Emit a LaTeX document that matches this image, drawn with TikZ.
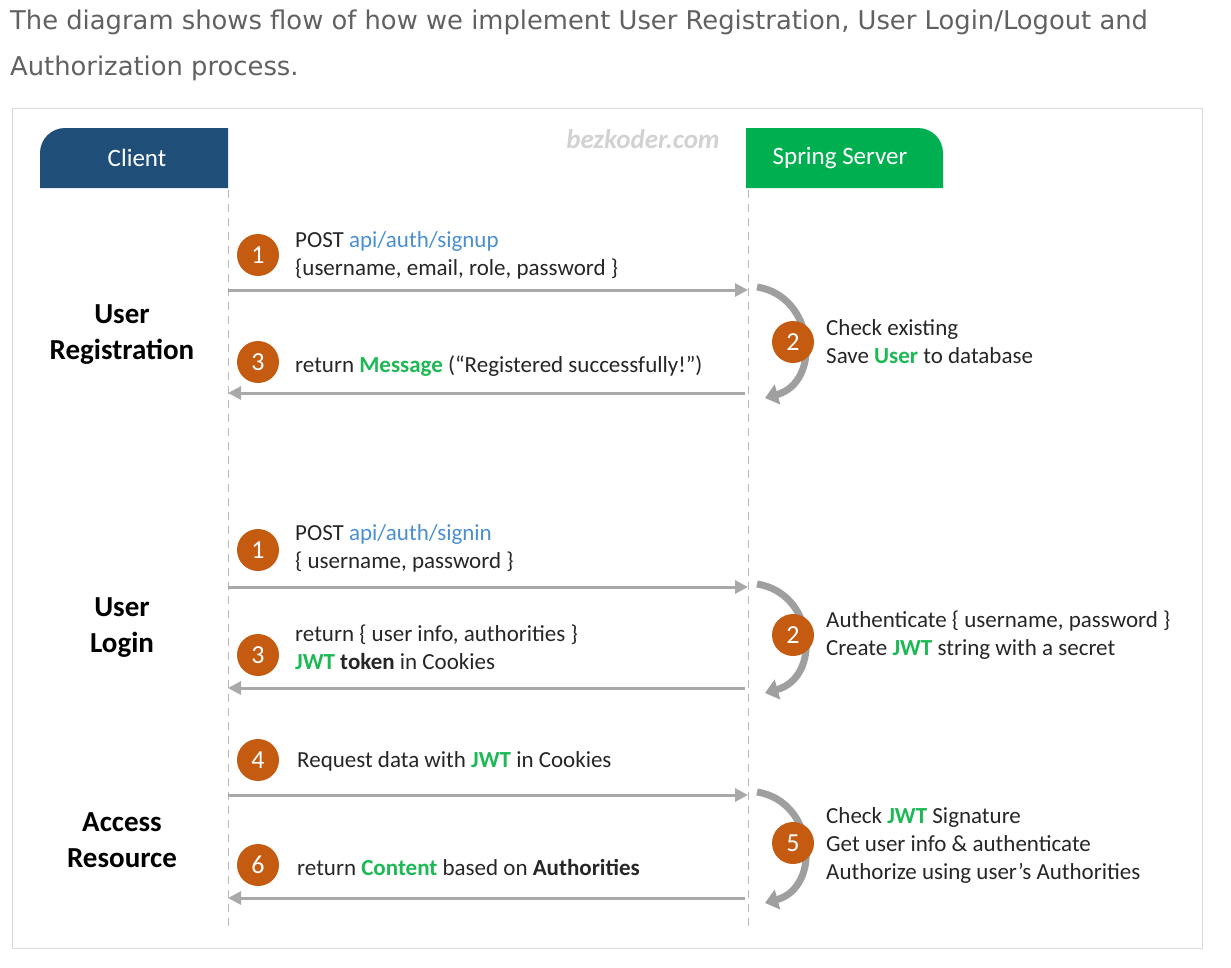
\documentclass[tikz,border=0pt]{standalone}
\usepackage{fontspec}
\setmainfont{Carlito}
\newfontfamily\headfont{DejaVu Sans}
\usetikzlibrary{arrows.meta}
\definecolor{clientblue}{HTML}{1F4E79}
\definecolor{springgreen}{HTML}{00B050}
\definecolor{stepbrown}{HTML}{C55A11}
\definecolor{linkblue}{HTML}{4A8FD0}
\definecolor{keygreen}{HTML}{1DB954}
\definecolor{flowgray}{HTML}{A9A9A9}
\definecolor{bodytext}{HTML}{262626}
\newcommand{\kw}[1]{\textcolor{keygreen}{\textbf{#1}}}
\newcommand{\api}[1]{\textcolor{linkblue}{#1}}
\begin{document}
\begin{tikzpicture}[x=1pt,y=-1pt,
    stepnum/.style={circle,fill=stepbrown,text=white,minimum size=42pt,inner sep=0pt,font=\fontsize{26}{26}\selectfont},
    msgtext/.style={anchor=west,align=left,inner sep=0pt,text=bodytext,font=\fontsize{23}{28}\selectfont},
    section/.style={align=center,inner sep=0pt,text=black,font=\fontsize{29}{36}\selectfont\bfseries},
    msg/.style={draw=flowgray,line width=3pt,-{Triangle[length=13pt,width=13pt]}},
    loopback/.style={draw=gray!75,line width=7pt,-{Triangle[length=13pt,width=20pt]}},
    lifeline/.style={draw=gray!55,line width=1pt,dash pattern=on 8pt off 6pt},
    tabtext/.style={text=white,font=\fontsize{25}{25}\selectfont}]
\useasboundingbox (0,0) rectangle (1231,967);
% heading
\node[anchor=west,align=left,inner sep=0pt,text=black!62,font=\headfont\fontsize{25.8}{46}\selectfont] (intro) at (10,45)
  {The diagram shows flow of how we implement User Registration, User Login/Logout and\\Authorization process.};
\draw[gray!30] (12,108) rectangle (1202,948);
% tabs
\fill[clientblue] (228,188) -- (40,188) -- (40,153) arc[start angle=180,end angle=270,radius=25] -- (228,128) -- cycle;
\fill[springgreen] (746,188) -- (746,128) -- (918,128) arc[start angle=270,end angle=360,radius=25] -- (943,188) -- cycle;
\node[tabtext] (client) at (137,158) {Client};
\node[tabtext] (server) at (840,158) {Spring Server};
\node[text=gray!35,font=\fontsize{27}{27}\selectfont\bfseries\itshape] (mark) at (643,139) {bezkoder.com};
% lifelines
\draw[lifeline] (228,190) -- (228,928);
\draw[lifeline] (748,190) -- (748,928);
\foreach \n/\y in {a/290,b/393,c/587,d/688,e/795,f/898}{
  \coordinate (c\n) at (228,\y);
  \coordinate (s\n) at (748,\y);
}
% user registration
\node[section] (reg) at (122,335) {User\\Registration};
\draw[msg] (ca) -- (sa);
\draw[msg] ([xshift=-3pt]sb) -- (cb);
\draw[loopback] (757,287) .. controls (815,296) and (822,382) .. (765,398);
\node[stepnum] (r1) at (258,255) {1};
\node[stepnum] (r2) at (793,342) {2};
\node[stepnum] (r3) at (258,362) {3};
\node[msgtext] (r1t) at (295,255) {POST \api{api/auth/signup}\\\{username, email, role, password \}};
\node[msgtext] (r2t) at (826,342) {Check existing\\Save \kw{User} to database};
\node[msgtext] (r3t) at (295,366) {return \kw{Message} (“Registered successfully!”)};
% user login
\node[section] (login) at (122,628) {User\\Login};
\draw[msg] (cc) -- (sc);
\draw[msg] ([xshift=-3pt]sd) -- (cd);
\draw[loopback] (757,584) .. controls (815,593) and (822,677) .. (765,693);
\node[stepnum] (l1) at (258,550) {1};
\node[stepnum] (l2) at (793,635) {2};
\node[stepnum] (l3) at (258,655) {3};
\node[msgtext] (l1t) at (295,548) {POST \api{api/auth/signin}\\\{ username, password \}};
\node[msgtext] (l2t) at (826,635) {Authenticate \{ username, password \}\\Create \kw{JWT} string with a secret};
\node[msgtext] (l3t) at (295,647) {return \{ user info, authorities \}\\\kw{JWT} \textbf{token} in Cookies};
% access resource
\node[section] (access) at (122,840) {Access\\Resource};
\draw[msg] (ce) -- (se);
\draw[msg] ([xshift=-3pt]sf) -- (cf);
\draw[loopback] (757,792) .. controls (815,801) and (822,887) .. (765,903);
\node[stepnum] (a4) at (258,760) {4};
\node[stepnum] (a5) at (793,843) {5};
\node[stepnum] (a6) at (258,865) {6};
\node[msgtext] (a4t) at (297,761) {Request data with \kw{JWT} in Cookies};
\node[msgtext] (a5t) at (826,845) {Check \kw{JWT} Signature\\Get user info \& authenticate\\Authorize using user’s Authorities};
\node[msgtext] (a6t) at (297,867) {return \kw{Content} based on \textbf{Authorities}};
\end{tikzpicture}
\end{document}
